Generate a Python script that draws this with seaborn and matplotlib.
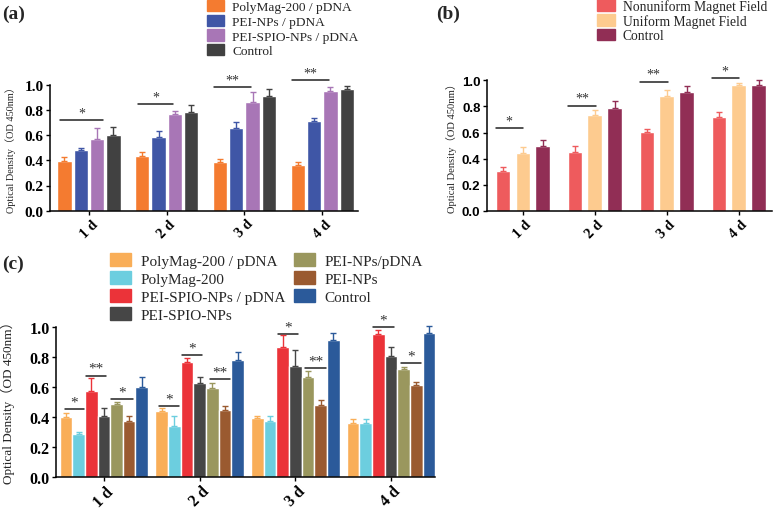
import numpy as np
import pandas as pd
import seaborn as sns
from matplotlib import pyplot as plt

days = ["1 d", "2 d", "3 d", "4 d"]

# Panel (a) - transfection reagents
a_groups = ["PolyMag-200 / pDNA", "PEI-NPs / pDNA", "PEI-SPIO-NPs / pDNA", "Control"]
a_colors = ["#F47B30", "#3F56A6", "#A876B6", "#414141"]
a_mean = [[0.392, 0.437, 0.389, 0.363],
          [0.481, 0.587, 0.660, 0.715],
          [0.571, 0.765, 0.861, 0.949],
          [0.598, 0.780, 0.909, 0.968]]
a_err = [[0.034, 0.026, 0.024, 0.024],
         [0.019, 0.043, 0.047, 0.024],
         [0.082, 0.029, 0.080, 0.030],
         [0.066, 0.056, 0.054, 0.019]]
# (day, from bar, to bar, y, label)
a_sig = [(0, 0.2, 2.9, 0.72, "*"), (1, 0.2, 2.4, 0.847, "*"),
         (2, 0.1, 2.4, 0.98, "**"), (3, 0.1, 2.4, 1.035, "**")]

# Panel (b) - magnetic field
b_groups = ["Nonuniform Magnet Field", "Uniform Magnet Field", "Control"]
b_colors = ["#EE5B5D", "#FDCB8F", "#912E55"]
b_mean = [[0.304, 0.454, 0.602, 0.719],
          [0.444, 0.735, 0.883, 0.964],
          [0.495, 0.786, 0.913, 0.967]]
b_err = [[0.030, 0.046, 0.023, 0.036],
         [0.043, 0.041, 0.046, 0.013],
         [0.046, 0.053, 0.046, 0.036]]
b_sig = [(0, 0.0, 1.5, 0.633, "*"), (1, 0.0, 1.6, 0.806, "**"),
         (2, 0.0, 1.6, 0.99, "**"), (3, 0.0, 1.5, 1.018, "*")]

# Panel (c) - all complexes
c_groups = ["PolyMag-200 / pDNA", "PolyMag-200", "PEI-SPIO-NPs / pDNA", "PEI-SPIO-NPs",
            "PEI-NPs/pDNA", "PEI-NPs", "Control"]
c_colors = ["#F9AE58", "#6CCEDF", "#EB3339", "#464646", "#9A975E", "#9A5A30", "#2B5A9A"]
c_mean = [[0.398, 0.438, 0.393, 0.362],
          [0.284, 0.338, 0.371, 0.360],
          [0.576, 0.764, 0.867, 0.951],
          [0.409, 0.624, 0.742, 0.809],
          [0.484, 0.593, 0.669, 0.720],
          [0.376, 0.447, 0.482, 0.613],
          [0.602, 0.782, 0.916, 0.962]]
c_err = [[0.026, 0.024, 0.016, 0.025],
         [0.014, 0.071, 0.033, 0.027],
         [0.082, 0.032, 0.080, 0.027],
         [0.049, 0.045, 0.105, 0.055],
         [0.014, 0.031, 0.035, 0.016],
         [0.028, 0.024, 0.031, 0.023],
         [0.062, 0.054, 0.044, 0.047]]
c_sig = [(0, 0.4, 1.9, 0.453, "*"), (0, 2.1, 3.7, 0.676, "**"), (0, 4.1, 5.8, 0.52, "*"),
         (1, 0.3, 1.9, 0.471, "*"), (1, 2.1, 3.7, 0.813, "*"), (1, 4.3, 5.9, 0.653, "**"),
         (2, 2.1, 3.7, 0.953, "*"), (2, 4.3, 5.9, 0.727, "**"),
         (3, 2.1, 3.7, 0.998, "*"), (3, 4.3, 5.9, 0.76, "*")]

sns.set_style("ticks")
serif = ["Liberation Serif", "DejaVu Serif"]
ylab_font = ["Liberation Serif", "Noto Sans CJK SC"]

W, H = 778, 510
fig = plt.figure(figsize=(W / 100, H / 100), dpi=100)


def panel(box, groups, colors, means, errs, sig, width, gap, ytop, tick_fs,
          tick_family, xfs, ylab_fs, labcoords, star_fs):
    left, right, bottom, unit = box
    ax = fig.add_axes([left / W, (H - bottom) / H, (right - left) / W, unit * ytop / H])
    df = pd.DataFrame({
        "day": np.tile(days, len(groups)),
        "group": np.repeat(groups, len(days)),
        "od": np.concatenate(means),
    })
    sns.barplot(data=df, x="day", y="od", hue="group", hue_order=groups,
                palette=colors, width=width, gap=gap, saturation=1,
                errorbar=None, ax=ax, legend=False)
    bars = list(ax.containers)
    for i, cont in enumerate(bars):
        xs = [p.get_x() + p.get_width() / 2 for p in cont]
        hs = [p.get_height() for p in cont]
        ax.errorbar(xs, hs, yerr=[np.zeros(len(hs)), errs[i]], fmt="none",
                    ecolor=colors[i], elinewidth=1, capsize=2.5, capthick=1,
                    clip_on=False, zorder=3)
    for d, b0, b1, y, lab in sig:
        p0 = bars[int(b0)][d]
        p1 = bars[int(b1)][d]
        x0 = p0.get_x() + (b0 - int(b0)) * p0.get_width()
        x1 = p1.get_x() + (b1 - int(b1)) * p1.get_width()
        ax.plot([x0, x1], [y, y], color="#222222", lw=1.1, clip_on=False)
        ax.text((x0 + x1) / 2, y + 0.005, lab, ha="center", va="bottom",
                fontsize=star_fs, color="#333333", family=serif)
    ax.set_ylim(0, ytop)
    ax.set_yticks([0, 0.2, 0.4, 0.6, 0.8, 1.0])
    ax.set_yticklabels(["0.0", "0.2", "0.4", "0.6", "0.8", "1.0"],
                       fontsize=tick_fs, fontweight="bold", family=tick_family)
    ax.set_xticks(range(len(days)))
    ax.set_xticklabels(days, rotation=45, ha="center", va="top",
                       fontsize=xfs, fontweight="bold", family=serif)
    ax.set_xlim(-0.5, 3.46)
    ax.set_xlabel("")
    ax.set_ylabel("Optical Density（OD 450nm）", fontsize=ylab_fs, family=ylab_font)
    ax.yaxis.set_label_coords(*labcoords)
    sns.despine(ax=ax)
    ax.spines["left"].set_bounds(0, 1.0)
    for s in ["left", "bottom"]:
        ax.spines[s].set_linewidth(1.1)
        ax.spines[s].set_color("black")
    ax.tick_params(length=3, width=1, pad=1.5, colors="black")
    return ax


def legend(ax, groups, colors, x, y, fs, ncol=1, spacing=0.0, colspace=0.6, hl=1.3):
    handles = [plt.Rectangle((0, 0), 1, 1, color=c) for c in colors]
    ax.legend(handles, groups, loc="upper left", bbox_to_anchor=(x / W, 1 - y / H),
              bbox_transform=fig.transFigure, frameon=False, ncol=ncol,
              prop={"family": serif, "size": fs}, handlelength=hl, handleheight=0.9,
              handletextpad=0.6, labelspacing=spacing, borderpad=0, borderaxespad=0,
              columnspacing=colspace)


ax_a = panel((50, 358, 211.7, 126), a_groups, a_colors, a_mean, a_err, a_sig,
             0.84, 0.12, 1.08, 11, serif, 10.5, 7.4, (-0.112, 0.47), 10)
legend(ax_a, a_groups, a_colors, 207, 1, 9.6, spacing=0.12)

ax_b = panel((486.7, 771.7, 212, 130.7), b_groups, b_colors, b_mean, b_err, b_sig,
             0.83, 0.28, 1.08, 9.5, ["Liberation Sans", "DejaVu Sans"], 10.5, 7.6,
             (-0.104, 0.47), 10)
legend(ax_b, b_groups, b_colors, 597, 0, 9.8, spacing=0.08)

ax_c = panel((56, 435, 478, 150), c_groups, c_colors, c_mean, c_err, c_sig,
             0.925, 0.0, 1.05, 11.5, serif, 11.5, 9.5, (-0.108, 0.5), 11)
legend(ax_c, c_groups, c_colors, 110, 254, 11, ncol=2, spacing=0.22, colspace=0.6, hl=1.4)

fig.text(2 / W, 1 - 6 / H, "(a)", fontsize=14, fontweight="bold", family=serif, va="top")
fig.text(436 / W, 1 - 6 / H, "(b)", fontsize=14, fontweight="bold", family=serif, va="top")
fig.text(2 / W, 1 - 256 / H, "(c)", fontsize=14, fontweight="bold", family=serif, va="top")

fig.savefig("out.png", dpi=100)
